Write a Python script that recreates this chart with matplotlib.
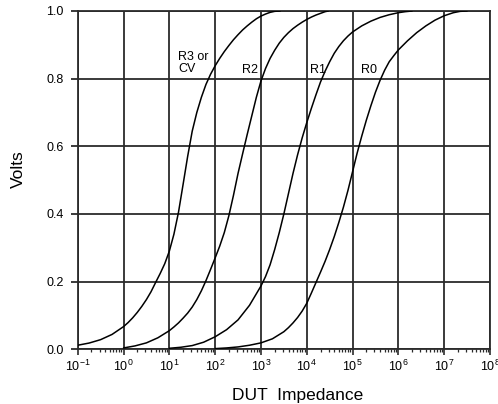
import math
import matplotlib
matplotlib.use("Agg")
import matplotlib.pyplot as plt
from matplotlib.ticker import LogLocator, FixedLocator, FuncFormatter, NullFormatter

plt.rcParams['font.family'] = ['Liberation Sans', 'DejaVu Sans']
plt.rcParams['mathtext.fontset'] = 'custom'
plt.rcParams['mathtext.rm'] = 'Liberation Sans'
plt.rcParams['mathtext.it'] = 'Liberation Sans'

# ---- data (log10 of impedance, volts) ----
r3_logx = [-1.0, -0.75, -0.5, -0.25, 0.0, 0.1, 0.2, 0.3, 0.4, 0.5, 0.6, 0.71, 0.8, 0.9,
           1.0, 1.1, 1.2, 1.3, 1.4, 1.5, 1.6, 1.7, 1.8, 1.9, 2.0, 2.1, 2.2, 2.3, 2.4,
           2.5, 2.6, 2.7, 2.8, 2.9, 3.0, 3.1, 3.2, 3.3, 3.42]
r3_volts = [0.012, 0.0185, 0.0285, 0.044, 0.067, 0.079, 0.093, 0.109, 0.127, 0.147, 0.17, 0.20,
            0.224, 0.253, 0.29, 0.34, 0.405, 0.487, 0.57, 0.645, 0.70, 0.745, 0.783, 0.813,
            0.838, 0.86, 0.88, 0.898, 0.915, 0.93, 0.944, 0.956, 0.967, 0.977, 0.985, 0.991,
            0.996, 0.999, 1.0]

r2_logx = [0.0, 0.25, 0.5, 0.75, 1.0, 1.1, 1.2, 1.3, 1.4, 1.5, 1.6, 1.7, 1.8, 1.9, 2.0,
           2.1, 2.2, 2.3, 2.4, 2.5, 2.6, 2.7, 2.8, 2.9, 3.0, 3.1, 3.2, 3.3, 3.4, 3.5, 3.6,
           3.7, 3.8, 3.9, 4.0, 4.1, 4.2, 4.3, 4.4, 4.47]
r2_volts = [0.004, 0.01, 0.019, 0.034, 0.055, 0.066, 0.078, 0.092, 0.107, 0.125, 0.147, 0.173,
            0.203, 0.236, 0.27, 0.305, 0.345, 0.395, 0.455, 0.52, 0.578, 0.635, 0.69, 0.745,
            0.793, 0.83, 0.86, 0.884, 0.905, 0.922, 0.936, 0.948, 0.958, 0.967, 0.975, 0.982,
            0.988, 0.993, 0.998, 1.0]

r1_logx = [1.0, 1.25, 1.5, 1.75, 2.0, 2.25, 2.5, 2.75, 3.0, 3.1, 3.2, 3.3, 3.4, 3.5, 3.6,
           3.7, 3.8, 3.9, 4.0, 4.1, 4.2, 4.3, 4.4, 4.5, 4.6, 4.7, 4.8, 4.9, 5.0, 5.2, 5.4,
           5.6, 5.8, 6.0, 6.15, 6.3]
r1_volts = [0.003, 0.006, 0.011, 0.021, 0.037, 0.058, 0.087, 0.13, 0.187, 0.215, 0.25, 0.295,
            0.345, 0.40, 0.46, 0.52, 0.575, 0.625, 0.67, 0.712, 0.752, 0.79, 0.822, 0.85,
            0.875, 0.895, 0.912, 0.926, 0.938, 0.956, 0.97, 0.981, 0.989, 0.995, 0.998, 1.0]

r0_logx = [2.0, 2.25, 2.5, 2.75, 3.0, 3.25, 3.5, 3.6, 3.7, 3.8, 3.9, 4.0, 4.1, 4.2, 4.3,
           4.4, 4.5, 4.6, 4.7, 4.8, 4.9, 5.0, 5.1, 5.2, 5.3, 5.4, 5.5, 5.6, 5.7, 5.8, 5.9,
           6.0, 6.2, 6.4, 6.6, 6.8, 7.0, 7.2, 7.35, 7.5]
r0_volts = [0.002, 0.004, 0.007, 0.012, 0.019, 0.031, 0.052, 0.064, 0.078, 0.094, 0.113,
            0.136, 0.166, 0.197, 0.228, 0.26, 0.295, 0.333, 0.375, 0.42, 0.47, 0.525, 0.58,
            0.63, 0.677, 0.72, 0.76, 0.795, 0.825, 0.85, 0.868, 0.885, 0.912, 0.936, 0.956,
            0.973, 0.986, 0.995, 0.999, 1.0]

curve_labels = ["R3 or\nCV", "R2", "R1", "R0"]
label_logx = [1.19, 2.587, 4.07, 5.19]
label_volts = [0.845, 0.827, 0.827, 0.827]

y_ticks = [0.0, 0.2, 0.4, 0.6, 0.8, 1.0]
x_decades = list(range(-1, 9))

# ---- figure ----
fig = plt.figure(figsize=(4.98, 4.04), dpi=100)
ax = fig.add_axes([77.7 / 498, 1 - 349.3 / 404, (490 - 77.7) / 498, (349.3 - 11) / 404])

series = [(r3_logx, r3_volts), (r2_logx, r2_volts), (r1_logx, r1_volts), (r0_logx, r0_volts)]
for lx, v in series:
    ax.plot([10.0 ** e for e in lx], v, color='black', lw=1.1, solid_joinstyle='round',
            solid_capstyle='round', zorder=3)

for t, lx, v in zip(curve_labels, label_logx, label_volts):
    ax.text(10.0 ** lx, v, t, ha='left', va='center', fontsize=9, linespacing=1.0, zorder=4)

ax.set_xscale('log')
ax.set_xlim(10.0 ** x_decades[0], 10.0 ** x_decades[-1])
ax.set_ylim(y_ticks[0], y_ticks[-1])

ax.xaxis.set_major_locator(FixedLocator([10.0 ** d for d in x_decades]))
ax.xaxis.set_minor_locator(LogLocator(base=10, subs=[2, 3, 4, 5, 6, 7, 8, 9], numticks=20))
ax.xaxis.set_minor_formatter(NullFormatter())
ax.xaxis.set_major_formatter(FuncFormatter(
    lambda v, p: r'$\mathregular{10^{%d}}$' % round(math.log10(v))))
ax.set_yticks(y_ticks)
ax.set_yticklabels(['%.1f' % t for t in y_ticks])

gcol = '#2b2b2b'
ax.grid(True, which='major', color=gcol, lw=1.3)
ax.set_axisbelow(True)
for s in ax.spines.values():
    s.set_color(gcol)
    s.set_linewidth(1.3)

ax.tick_params(axis='x', which='major', direction='out', length=4, width=1.2, color=gcol,
               labelsize=9, pad=3)
ax.tick_params(axis='x', which='minor', direction='out', length=2.5, width=0.9, color=gcol)
ax.tick_params(axis='y', which='major', direction='out', length=5, width=1.3, color=gcol,
               labelsize=9, pad=5)
ax.tick_params(axis='y', which='minor', left=False)

fig.text(232 / 498, 1 - 400 / 404, 'DUT  Impedance', ha='left', va='baseline', fontsize=12.5)
fig.text(18.5 / 498, 1 - 169 / 404, 'Volts', ha='center', va='center', rotation=90, fontsize=12.5)

fig.savefig('out.png', dpi=100)
